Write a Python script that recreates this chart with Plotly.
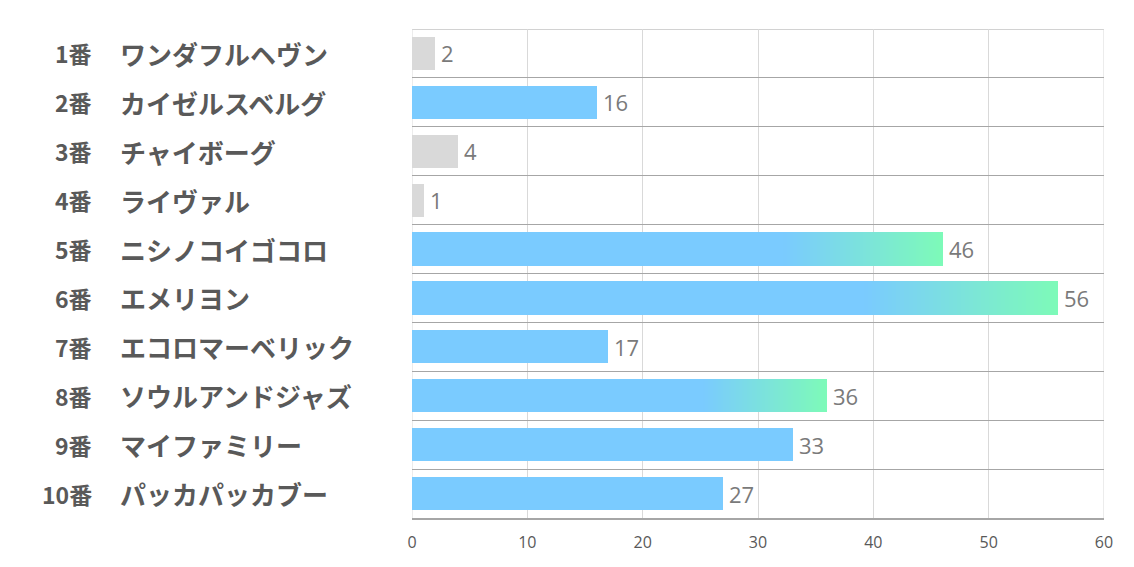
import plotly.graph_objects as go

numbers = ["1番", "2番", "3番", "4番", "5番", "6番", "7番", "8番", "9番", "10番"]
names = ["ワンダフルヘヴン", "カイゼルスベルグ", "チャイボーグ", "ライヴァル", "ニシノコイゴコロ",
         "エメリヨン", "エコロマーベリック", "ソウルアンドジャズ", "マイファミリー", "パッカパッカブー"]
values = [2, 16, 4, 1, 46, 56, 17, 36, 33, 27]
kinds = ["gray", "blue", "gray", "gray", "grad", "grad", "blue", "grad", "blue", "blue"]
x_ticks = [0, 10, 20, 30, 40, 50, 60]

BLUE = (122, 203, 255)
GREEN = (125, 250, 184)
GRAY = "#d9d9d9"
BAR_W = 0.68
GRAD_START = 0.7
N_SEG = 48
X_MAX = 60


def rgb(c):
    return "rgb(%d,%d,%d)" % c


def mix(t):
    return tuple(round(BLUE[j] + (GREEN[j] - BLUE[j]) * t) for j in range(3))


ypos = list(range(len(values)))
colors = [GRAY if k == "gray" else rgb(BLUE) for k in kinds]

fig = go.Figure()
fig.add_trace(go.Bar(x=values, y=ypos, orientation="h", width=BAR_W,
                     marker=dict(color=colors, line=dict(width=0)),
                     hoverinfo="skip", showlegend=False))

# gradient part of the highlighted bars, as thin stacked segments
seg_y, seg_base, seg_len, seg_col = [], [], [], []
for i, (v, k) in enumerate(zip(values, kinds)):
    if k != "grad":
        continue
    a = v * GRAD_START
    step = (v - a) / N_SEG
    for j in range(N_SEG):
        seg_y.append(i)
        seg_base.append(a + j * step)
        seg_len.append(step * (1.6 if j < N_SEG - 1 else 1.0))
        seg_col.append(rgb(mix((j + 0.5) / N_SEG)))
fig.add_trace(go.Bar(x=seg_len, y=seg_y, base=seg_base, orientation="h", width=BAR_W,
                     marker=dict(color=seg_col, line=dict(width=0)),
                     hoverinfo="skip", showlegend=False))

annotations = []
for i, v in enumerate(values):
    annotations.append(dict(x=v, y=i, xref="x", yref="y", text=str(v), showarrow=False,
                            xanchor="left", xshift=4,
                            font=dict(family="Open Sans, Liberation Sans, sans-serif", size=22, color="#7a7a7a")))
for i, (n, nm) in enumerate(zip(numbers, names)):
    annotations.append(dict(x=(94 - 412) / 692, y=i, xref="paper", yref="y", text=n, showarrow=False,
                            xanchor="right",
                            font=dict(family="Noto Sans CJK JP", size=23, color="#595959", weight="bold")))
    annotations.append(dict(x=(118 - 412) / 692, y=i, xref="paper", yref="y", text=nm, showarrow=False,
                            xanchor="left",
                            font=dict(family="Noto Sans CJK JP", size=26, color="#595959", weight="bold")))

shapes = [
    dict(type="line", xref="paper", yref="y", x0=0, x1=1, y0=-0.5, y1=-0.5,
         line=dict(color="#a6a6a6", width=1.2), layer="below"),
    dict(type="line", xref="x", yref="paper", x0=0, x1=0, y0=0, y1=1,
         line=dict(color="#d9d9d9", width=1), layer="below"),
    dict(type="line", xref="x", yref="paper", x0=X_MAX, x1=X_MAX, y0=0, y1=1,
         line=dict(color="#d9d9d9", width=1), layer="below"),
]

fig.update_layout(
    width=1134, height=567,
    margin=dict(l=412, r=30, t=29, b=49),
    plot_bgcolor="white", paper_bgcolor="white",
    barmode="overlay", bargap=0,
    annotations=annotations,
    shapes=shapes,
    xaxis=dict(range=[0, X_MAX], tickvals=x_ticks, showgrid=True, gridcolor="#d9d9d9", gridwidth=1,
               zeroline=False, showline=True, linecolor="#a6a6a6", linewidth=1.5,
               ticks="", ticklabelstandoff=9,
               tickfont=dict(family="Open Sans, Liberation Sans, sans-serif", size=16, color="#595959"),
               fixedrange=True),
    yaxis=dict(range=[9.5, -0.5], tickvals=[i - 0.5 for i in range(len(values) + 1)],
               showticklabels=False, showgrid=True, gridcolor="#a6a6a6", gridwidth=1.2,
               zeroline=False, showline=False, ticks="", fixedrange=True),
)

fig.write_html("out.html")
